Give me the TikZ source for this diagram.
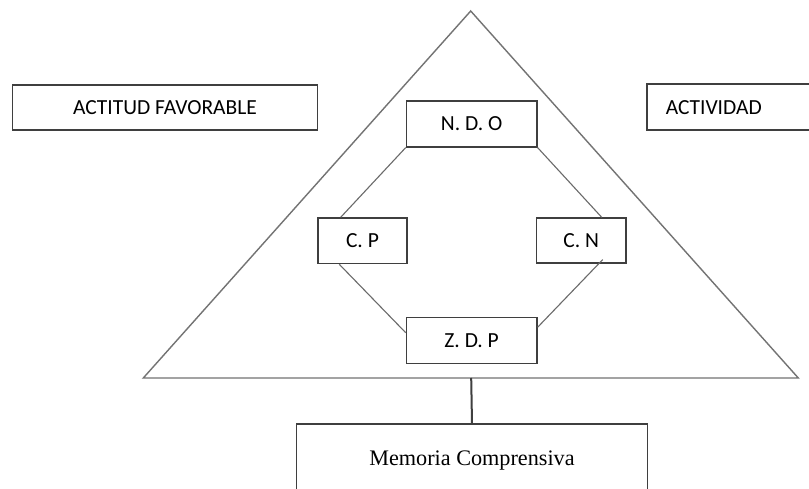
\documentclass[tikz,border=0pt]{standalone}
\usepackage{fontspec}
\newfontfamily\labelfont{Carlito}
\newfontfamily\memfont{Liberation Serif}
\usetikzlibrary{calc}
\definecolor{boxline}{HTML}{3F3F3F}
\definecolor{triline}{HTML}{737373}
\definecolor{linkline}{HTML}{6A6A6A}
\begin{document}
\begin{tikzpicture}[x=1pt,y=-1pt,
  box/.style={draw=boxline,line width=1.6pt,rectangle,inner sep=0pt,anchor=north west,
    font=\labelfont\fontsize{21.5}{24}\selectfont,text height=13.6pt,text depth=0pt},
  link/.style={draw=linkline,line width=1.1pt},
  tri/.style={draw=triline,line width=1.4pt,line join=miter}]
\useasboundingbox (0,0) rectangle (809,489);
\clip (0,0) rectangle (809,489);
\fill[white] (0,0) rectangle (809,489);
% triangle
\coordinate (apex) at (470.7,11);
\coordinate (bl) at (143.3,378);
\coordinate (br) at (798.3,378);
\coordinate (tribase) at (471.2,378);
\draw[tri] (apex) -- (bl) -- (br) -- cycle;
% side boxes
\node[box,minimum width=305pt,minimum height=45.3pt] (actitud) at (11.7,84) {ACTITUD FAVORABLE};
\node[box,minimum height=46pt,text width=200pt,align=left,inner xsep=19pt] (actividad) at (646,83.5) {ACTIVIDAD};
% inner boxes
\node[box,minimum width=130.3pt,minimum height=46pt] (ndo) at (405.7,100) {N. D. O};
\node[box,minimum width=88.7pt,minimum height=45.4pt] (cp) at (317.3,217.3) {C. P};
\node[box,minimum width=89.3pt,minimum height=44.7pt] (cn) at (535.7,217.3) {C. N};
\node[box,minimum width=130.3pt,minimum height=46pt] (zdp) at (405.7,316.7) {Z. D. P};
% bottom box
\node[box,minimum width=351pt,minimum height=68pt,font=\memfont\fontsize{22.2}{25}\selectfont,text height=14.7pt] (mem) at (295.7,423.3) {Memoria Comprensiva};
% connectors
\draw[link] (ndo.south west) -- ($(cp.north west)+(23.4,0)$);
\draw[link] (ndo.south east) -- ($(cn.north west)+(66,0)$);
\draw[link] ($(cp.south west)+(22,0)$) -- ($(zdp.north west)+(0,16)$);
\draw[link] ($(cn.south west)+(67,-4)$) -- ($(zdp.north east)+(0,10.6)$);
\draw[draw=boxline,line width=2pt] (tribase) -- (mem.north);
\end{tikzpicture}
\end{document}
